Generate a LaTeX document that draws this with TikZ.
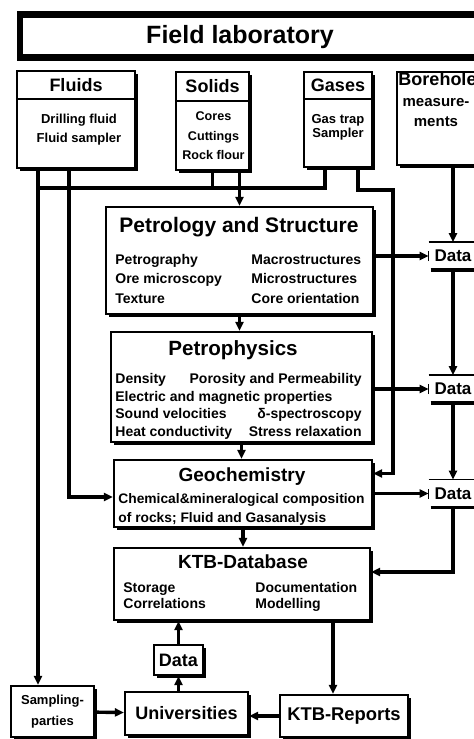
\documentclass[tikz,border=0pt]{standalone}
\usepackage{fontspec}
\setmainfont{Liberation Sans}
\usetikzlibrary{arrows.meta, shadows, positioning}

\tikzset{
  box/.style={draw, line width=1.1pt, fill=white, inner sep=0pt,
    drop shadow={fill=black, opacity=1, shadow xshift=1.3pt, shadow yshift=-1.3pt}},
  title/.style={font=\fontsize{10}{12}\selectfont\bfseries, inner sep=0pt},
  head/.style={font=\fontsize{9}{10}\selectfont\bfseries, inner sep=0pt},
  items/.style={font=\fontsize{7}{9.75}\selectfont\bfseries, inner sep=0pt, align=left,
    yshift=-1.6pt, execute at begin node=\strut, execute at end node=\strut},
  wire/.style={line width=1.7pt},
  link/.style={wire, -{Triangle[length=4.5pt,width=4pt]}},
  datanode/.style={minimum width=24pt, minimum height=13.5pt, inner sep=0pt,
    font=\fontsize{8.5}{10}\selectfont\bfseries},
}

\begin{document}
\begin{tikzpicture}[x=0.5pt, y=-0.5pt]
\useasboundingbox (0,0) rectangle (474,739);
\clip (0,0) rectangle (474,739);

% field laboratory and its sources
\node[draw, line width=3.2pt, minimum width=232pt, minimum height=21.5pt] (lab) at (252,36) {};
\node[title, font=\fontsize{12.5}{14}\selectfont\bfseries] (labT) at (240,37) {Field laboratory};

\node[box, minimum width=59pt, minimum height=48.5pt] (fluids) at (76,119.5) {};
\node[box, minimum width=36.5pt, minimum height=49pt] (solids) at (212.5,121) {};
\node[box, minimum width=34pt, minimum height=47.5pt] (gases) at (338,119.5) {};
\node[box, minimum width=40.5pt, minimum height=46.5pt] (borehole) at (437.5,118.5) {};
\foreach \b/\d in {fluids/14.5, solids/15, gases/14}
  \draw[line width=1pt] ([yshift=-\d pt]\b.north west) -- ([yshift=-\d pt]\b.north east);

\node[head] (fluidsT) at (76,85) {Fluids};
\node[head] (solidsT) at (212.5,86) {Solids};
\node[head] (gasesT) at (338,85) {Gases};
\node[head] (boreholeT) at (437.5,79) {Borehole};
\node[items, align=center, font=\fontsize{6.5}{9.5}\selectfont\bfseries] (fluidsI) at (79,127.5) {Drilling fluid\\Fluid sampler};
\node[items, align=center, font=\fontsize{6.3}{9.75}\selectfont\bfseries] (solidsI) at (213.5,135.5) {Cores\\Cuttings\\Rock flour};
\node[items, align=center, font=\fontsize{6.5}{7.3}\selectfont\bfseries] (gasesI) at (338,125) {Gas trap\\Sampler};
\node[items, align=center, font=\fontsize{7.5}{10}\selectfont\bfseries] (boreholeI) at (436,112) {measure-\\ments};

% laboratory chain
\node[box, minimum width=133.5pt, minimum height=53.5pt] (petro) at (239.5,260.5) {};
\node[title, font=\fontsize{10.5}{12}\selectfont\bfseries] (petroT) at (239,227) {Petrology and Structure};
\node[items, anchor=west] (petroL) at (115,278.5) {Petrography\\Ore microscopy\\Texture};
\node[items, anchor=west] (petroR) at (251,278.5) {Macrostructures\\Microstructures\\Core orientation};

\node[box, minimum width=130.5pt, minimum height=55pt] (phys) at (241.5,387) {};
\node[title, font=\fontsize{10.3}{12}\selectfont\bfseries] (physT) at (233,350) {Petrophysics};
\node[items, anchor=west, font=\fontsize{7}{8.75}\selectfont\bfseries] (physL) at (115,404.5)
  {Density\\Electric and magnetic properties\\Sound velocities\\Heat conductivity};
\node[items, anchor=east, align=right, font=\fontsize{7}{8.75}\selectfont\bfseries] (physR) at (362,404.5)
  {Porosity and Permeability\\\mbox{}\\δ-spectroscopy\\Stress relaxation};

\node[box, minimum width=129pt, minimum height=33.5pt] (geochem) at (243,493.5) {};
\node[title, font=\fontsize{9.5}{12}\selectfont\bfseries] (geochemT) at (242,477) {Geochemistry};
\node[items, anchor=west, font=\fontsize{6.9}{9.5}\selectfont\bfseries] (geochemI) at (118,507.5)
  {Chemical\&mineralogical composition\\of rocks; Fluid and Gasanalysis};

\node[box, minimum width=128pt, minimum height=36pt] (ktbdb) at (242,584) {};
\node[title, font=\fontsize{9.5}{12}\selectfont\bfseries] (ktbdbT) at (243,562) {KTB-Database};
\node[items, anchor=west, font=\fontsize{7}{8}\selectfont\bfseries] (ktbdbL) at (123,595) {Storage\\Correlations};
\node[items, anchor=west, font=\fontsize{7}{8}\selectfont\bfseries] (ktbdbR) at (255,595) {Documentation\\Modelling};

% data stores on the right
\node[datanode] (data1) at (453,256) {Data};
\node[datanode] (data2) at (453,389) {Data};
\node[datanode] (data3) at (453,493.5) {Data};
\foreach \d in {data1,data2,data3}{
  \draw[line width=0.8pt] (\d.north west) -- (\d.north east);
  \draw[line width=1.7pt] ([xshift=1pt]\d.south west) -- (\d.south east);
  \draw[line width=0.8pt] ([yshift=-2.5pt]\d.west) -- ([yshift=2.5pt]\d.west);
}

% users
\node[box, minimum width=24.5pt, minimum height=15pt, font=\fontsize{9}{10}\selectfont\bfseries] (idata) at (178.5,660) {Data};
\node[box, minimum width=61.5pt, minimum height=21.5pt, font=\fontsize{9}{10}\selectfont\bfseries] (univ) at (186.5,713.5) {Universities};
\node[box, minimum width=41.5pt, minimum height=25.5pt, align=center, font=\fontsize{6.5}{10.5}\selectfont\bfseries] (samp) at (52.5,711.5) {Sampling-\\parties};
\node[box, minimum width=64pt, minimum height=21pt, font=\fontsize{9.2}{10}\selectfont\bfseries] (reports) at (344,716) {KTB-Reports};

% feed lines
\coordinate (busy) at (0,188);
\coordinate (flA) at ([xshift=-19pt]fluids.south);
\coordinate (flB) at ([xshift=-3.5pt]fluids.south);
\coordinate (gaA) at ([xshift=-6.5pt]gases.south);
\coordinate (gaB) at ([xshift=10pt]gases.south);
\coordinate (gaturn) at (393,190);
\draw[wire] (flA |- busy) -- (gaA |- busy) -- (gaA);
\draw[wire] (solids.south) -- (solids.south |- busy);
\draw[link] (solids.south -| petro.north) -- (petro.north);
\draw[link] (flA) -- (flA |- samp.north);
\draw[link] (flB) |- ([yshift=-1.75pt]geochem.west);
\draw[link] (gaB) |- (gaturn) |- ([yshift=10pt]geochem.east);

% data flow
\draw[link] (borehole.south -| data1.north) -- (data1.north);
\draw[link] (data1.south) -- (data2.north);
\draw[link] (data2.south) -- (data3.north);
\draw[link] (data3.south) |- ([yshift=6pt]ktbdb.east);
\draw[link] (petro.east |- data1) -- (data1.west);
\draw[link] (phys.east |- data2) -- (data2.west);
\draw[link] (geochem.east |- data3) -- (data3.west);

\draw[link] (petro.south) -- (petro.south |- phys.north);
\draw[link] (phys.south) -- (phys.south |- geochem.north);
\draw[link] (geochem.south) -- (geochem.south |- ktbdb.north);
\draw[link] ([xshift=-5.5pt]reports.north |- ktbdb.south) -- ([xshift=-5.5pt]reports.north);
\draw[link] (idata.north) -- (idata.north |- ktbdb.south);
\draw[link] (idata.south |- univ.north) -- (idata.south);
\draw[link] (samp) -- (univ);
\draw[link] (reports.west) -- (reports.west -| univ.east);
\end{tikzpicture}
\end{document}
